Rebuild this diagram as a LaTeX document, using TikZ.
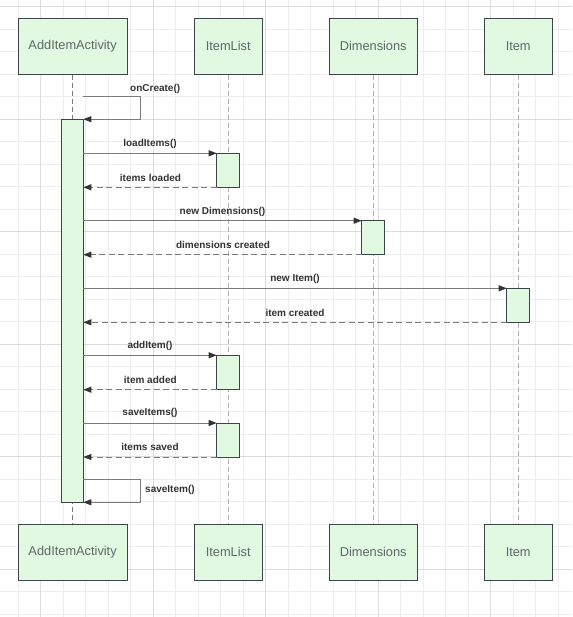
\documentclass[tikz,border=0pt]{standalone}
\usepackage{fontspec}
\setmainfont{Liberation Sans}
\usetikzlibrary{arrows.meta}

\definecolor{gridminor}{HTML}{EDEDED}
\definecolor{gridmajor}{HTML}{DCDCDC}
\definecolor{boxfill}{HTML}{E1F8E1}
\definecolor{boxline}{HTML}{3B4547}
\definecolor{boxtext}{HTML}{5E6968}
\definecolor{msgline}{HTML}{7A7A7A}
\definecolor{msgtext}{HTML}{333333}
\definecolor{lifegrey}{HTML}{B0B0B0}

\tikzset{
  participant/.style={draw=boxline, fill=boxfill, line width=0.9pt,
    minimum width=#1, minimum height=56pt, inner sep=0pt,
    font=\fontsize{12.8}{15}\selectfont, text=boxtext},
  actbar/.style={draw=boxline, fill=boxfill, line width=0.9pt},
  lifeline/.style={draw=lifegrey, line width=1pt, dash pattern=on 5pt off 3pt},
  lifemain/.style={draw=msgline, line width=1pt, dash pattern=on 5pt off 3pt},
  callmsg/.style={draw=msgline, line width=0.9pt,
    -{Triangle[length=8pt,width=6pt,fill=msgtext,color=msgtext]}},
  retmsg/.style={draw=msgline, line width=0.9pt, dash pattern=on 6pt off 3.5pt,
    -{Triangle[length=8pt,width=6pt,fill=msgtext,color=msgtext]}},
  msglabel/.style={font=\bfseries\fontsize{10}{12}\selectfont, text=msgtext, inner sep=0pt}
}

\begin{document}
\begin{tikzpicture}[x=1pt, y=-1pt]
\useasboundingbox (0,0) rectangle (572,617);
\fill[white] (0,0) rectangle (572,617);

% background grid
\foreach \i in {0,...,25} {
  \pgfmathsetmacro\gx{18.2+22.5*(\i-1)}
  \draw[gridminor, line width=0.8pt] (\gx,0) -- (\gx,617);
}
\foreach \i in {0,...,27} {
  \pgfmathsetmacro\gy{6.7+22.5*\i}
  \draw[gridminor, line width=0.8pt] (0,\gy) -- (572,\gy);
}
\foreach \gx in {40.7,153.2,265.7,378.2,490.7}
  \draw[gridmajor, line width=0.9pt] (\gx,0) -- (\gx,617);
\foreach \gy in {6.7,119.2,231.7,344.2,456.7,569.2}
  \draw[gridmajor, line width=0.9pt] (0,\gy) -- (572,\gy);

% participants, top row
\node[participant=108.7pt] (actTop) at (72.6,46.3) {AddItemActivity};
\node[participant=67.7pt]  (listTop) at (228.2,46.3) {ItemList};
\node[participant=87.5pt]  (dimTop) at (373.2,46.3) {Dimensions};
\node[participant=67.5pt]  (itemTop) at (518.2,46.3) {Item};

% participants, bottom row
\node[participant=108.7pt] (actBot) at (72.6,552.3) {AddItemActivity};
\node[participant=67.7pt]  (listBot) at (228.2,552.3) {ItemList};
\node[participant=87.5pt]  (dimBot) at (373.2,552.3) {Dimensions};
\node[participant=67.5pt]  (itemBot) at (518.2,552.3) {Item};

% lifelines
\draw[lifemain] (actTop.south) -- (actBot.north);
\draw[lifeline] (listTop.south) -- (listBot.north);
\draw[lifeline] (dimTop.south) -- (dimBot.north);
\draw[lifeline] (itemTop.south) -- (itemBot.north);

% activation bars
\draw[actbar] (61.3,119.3) rectangle (83.3,502);
\draw[actbar] (216.7,153.3) rectangle (239.3,187.3);
\draw[actbar] (361.7,220.7) rectangle (384.7,254.7);
\draw[actbar] (506.7,288.3) rectangle (529.3,322.3);
\draw[actbar] (216.7,355.3) rectangle (239.3,389.7);
\draw[actbar] (216.7,423) rectangle (239.3,457);

% message end points on the activation bars
\coordinate (onA) at (82.5,96.7);
\coordinate (onB) at (83.3,119.2);
\coordinate (a1) at (83.3,153.3);  \coordinate (b1) at (216.7,153.3);
\coordinate (a2) at (83.3,187.3);  \coordinate (b2) at (216.7,187.3);
\coordinate (a3) at (83.3,220.7);  \coordinate (b3) at (361.7,220.7);
\coordinate (a4) at (83.3,254.7);  \coordinate (b4) at (361.7,254.7);
\coordinate (a5) at (83.3,288.3);  \coordinate (b5) at (506.7,288.3);
\coordinate (a6) at (83.3,322.3);  \coordinate (b6) at (506.7,322.3);
\coordinate (a7) at (83.3,355.3);  \coordinate (b7) at (216.7,355.3);
\coordinate (a8) at (83.3,389.7);  \coordinate (b8) at (216.7,389.7);
\coordinate (a9) at (83.3,423);    \coordinate (b9) at (216.7,423);
\coordinate (a10) at (83.3,457);   \coordinate (b10) at (216.7,457);
\coordinate (svA) at (83.3,479.3);
\coordinate (svB) at (83.3,502.3);

% self call: onCreate()
\draw[callmsg] (onA) -- (140.3,96.7) -- (140.3,119.2) -- (onB);
\node[msglabel, anchor=west] (lOn) at (130,89) {onCreate()};

% calls and returns
\draw[callmsg] (a1) -- (b1);
\node[msglabel] (l1) at (150,144) {loadItems()};
\draw[retmsg] (b2) -- (a2);
\node[msglabel] (l2) at (150.5,177.7) {items loaded};

\draw[callmsg] (a3) -- (b3);
\node[msglabel] (l3) at (222.5,211.7) {new Dimensions()};
\draw[retmsg] (b4) -- (a4);
\node[msglabel] (l4) at (223,245) {dimensions created};

\draw[callmsg] (a5) -- (b5);
\node[msglabel] (l5) at (295,278.7) {new Item()};
\draw[retmsg] (b6) -- (a6);
\node[msglabel] (l6) at (295,313) {item created};

\draw[callmsg] (a7) -- (b7);
\node[msglabel] (l7) at (150,346) {addItem()};
\draw[retmsg] (b8) -- (a8);
\node[msglabel] (l8) at (150.3,380) {item added};

\draw[callmsg] (a9) -- (b9);
\node[msglabel] (l9) at (150,413.3) {saveItems()};
\draw[retmsg] (b10) -- (a10);
\node[msglabel] (l10) at (150,447.3) {items saved};

% self call: saveItem()
\draw[callmsg] (svA) -- (140.3,479.3) -- (140.3,502.3) -- (svB);
\node[msglabel, anchor=west] (lSv) at (145,490) {saveItem()};
\end{tikzpicture}
\end{document}
